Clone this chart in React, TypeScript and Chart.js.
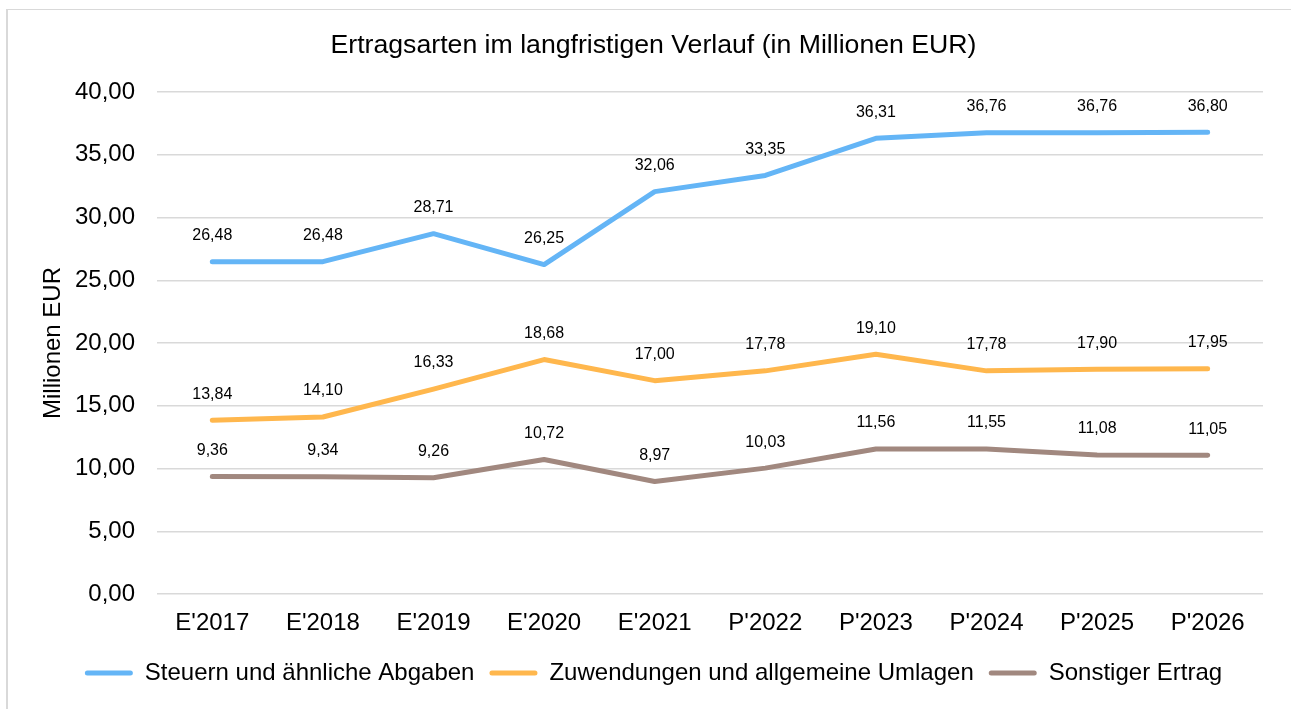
import React, { useEffect, useRef } from "react";
import { Chart, registerables } from "chart.js";

Chart.register(...registerables);

const chartTitle = "Ertragsarten im langfristigen Verlauf (in Millionen EUR)";
const yAxisTitle = "Millionen EUR";
const categories = ["E'2017", "E'2018", "E'2019", "E'2020", "E'2021", "P'2022", "P'2023", "P'2024", "P'2025", "P'2026"];
const seriesNames = ["Steuern und ähnliche Abgaben", "Zuwendungen und allgemeine Umlagen", "Sonstiger Ertrag"];
const steuern = [26.48, 26.48, 28.71, 26.25, 32.06, 33.35, 36.31, 36.76, 36.76, 36.8];
const zuwendungen = [13.84, 14.1, 16.33, 18.68, 17.0, 17.78, 19.1, 17.78, 17.9, 17.95];
const sonstiger = [9.36, 9.34, 9.26, 10.72, 8.97, 10.03, 11.56, 11.55, 11.08, 11.05];
const seriesColors = ["#64B5F6", "#FFB74D", "#A1887F"];
const yMin = 0;
const yMax = 40;
const yStep = 5;

const FONT = '"Liberation Sans", Arial, sans-serif';
const fmt = (v: number) => v.toFixed(2).replace(".", ",");

const dataLabelPlugin = {
  id: "dataLabels",
  afterDatasetsDraw(chart: any) {
    const ctx = chart.ctx;
    ctx.save();
    ctx.font = `16px ${FONT}`;
    ctx.fillStyle = "#000";
    ctx.textAlign = "center";
    ctx.textBaseline = "middle";
    chart.data.datasets.forEach((ds: any, i: number) => {
      const meta = chart.getDatasetMeta(i);
      meta.data.forEach((pt: any, j: number) => {
        ctx.fillText(fmt(ds.data[j] as number), pt.x, pt.y - 26);
      });
    });
    ctx.restore();
  },
};

export default function App() {
  const ref = useRef<HTMLCanvasElement | null>(null);

  useEffect(() => {
    if (!ref.current) return;
    const seriesData = [steuern, zuwendungen, sonstiger];
    const chart = new Chart(ref.current, {
      type: "line",
      data: {
        labels: categories,
        datasets: seriesNames.map((name, i) => ({
          label: name,
          data: seriesData[i],
          borderColor: seriesColors[i],
          backgroundColor: seriesColors[i],
          borderWidth: 5,
          pointRadius: 0,
          pointHoverRadius: 0,
          tension: 0,
          borderCapStyle: "round" as const,
          borderJoinStyle: "round" as const,
        })),
      },
      options: {
        responsive: false,
        animation: false,
        events: [],
        layout: { padding: { left: 44, right: 28, top: 0, bottom: 14 } },
        plugins: {
          title: {
            display: true,
            text: chartTitle,
            color: "#000",
            font: { family: FONT, size: 26.67, weight: "normal" },
            padding: { top: 30, bottom: 30 },
          },
          legend: {
            position: "bottom",
            labels: {
              color: "#000",
              font: { family: FONT, size: 24 },
              boxWidth: 48,
              boxHeight: 5,
              padding: 15,
              useBorderRadius: true,
              borderRadius: 2.5,
              generateLabels: (chart: any) => {
                const items = Chart.defaults.plugins.legend.labels.generateLabels(chart);
                return items.map((it: any) => ({ ...it, lineWidth: 0, borderRadius: 2.5 }));
              },
            },
          },
          tooltip: { enabled: false },
        },
        scales: {
          x: {
            offset: true,
            grid: { display: false, drawTicks: false, offset: true },
            border: { display: false },
            ticks: { color: "#000", font: { family: FONT, size: 24 }, padding: 15, maxRotation: 0 },
            afterFit: (scale: any) => {
              scale.height = 52;
            },
          },
          y: {
            min: yMin,
            max: yMax,
            grid: { color: "#d9d9d9", lineWidth: 1.5, drawTicks: false },
            border: { display: false },
            ticks: {
              stepSize: yStep,
              color: "#000",
              font: { family: FONT, size: 24 },
              padding: 22,
              callback: (v: any) => fmt(Number(v)),
            },
            title: {
              display: true,
              text: yAxisTitle,
              color: "#000",
              font: { family: FONT, size: 24 },
              padding: { top: -5, bottom: 0 },
            },
            afterFit: (scale: any) => {
              scale.width = 113;
            },
          },
        },
      },
      plugins: [dataLabelPlugin],
    } as any);
    return () => chart.destroy();
  }, []);

  return (
    <div style={{ position: "fixed", left: 0, top: 0, width: 1291, height: 709, background: "#fff", overflow: "hidden" }}>
      <canvas ref={ref} width={1291} height={709} style={{ width: 1291, height: 709, display: "block" }} />
      <div
        style={{
          position: "absolute",
          left: 6,
          top: 9,
          width: 1400,
          height: 800,
          borderLeft: "2px solid #d9d9d9",
          borderTop: "1.5px solid #d9d9d9",
          pointerEvents: "none",
        }}
      />
    </div>
  );
}
